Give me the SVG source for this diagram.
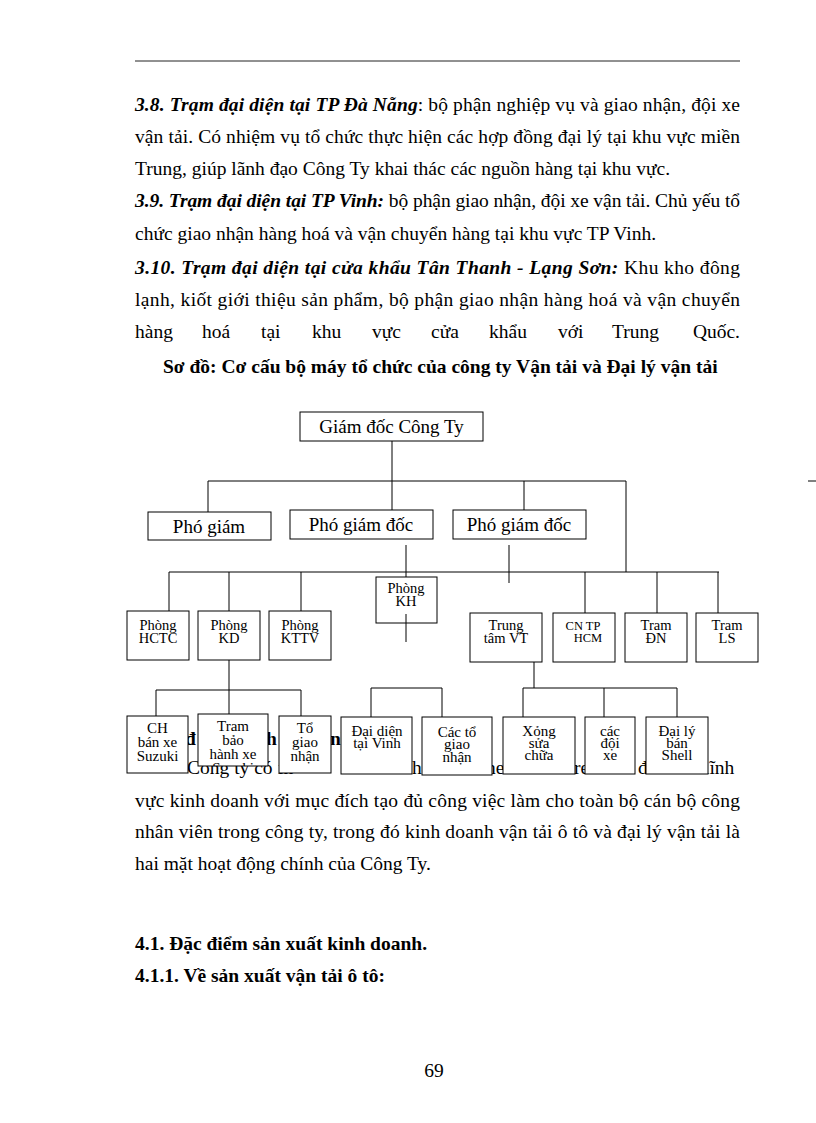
<svg xmlns="http://www.w3.org/2000/svg" width="816" height="1123" viewBox="0 0 816 1123">
<style>
.t{font-family:"Liberation Serif","Times New Roman",serif;font-size:19.5px;fill:#000}
.b{font-weight:bold}
.bi{font-weight:bold;font-style:italic}
.n rect{fill:#fff;stroke:#000;stroke-width:1}
.n text{font-family:"Liberation Serif","Times New Roman",serif;fill:#000;text-anchor:middle}
.s{font-size:14.5px}
.u{font-size:15px}
.m{font-size:19px}
#connectors line{stroke:#000;stroke-width:1}
</style>
<defs>
<clipPath id="clipTbh"><rect x="198" y="714" width="70" height="52"/></clipPath>
</defs>
<rect width="816" height="1123" fill="#fff"/>
<line x1="135" y1="61" x2="740" y2="61" stroke="#222" stroke-width="1"/>
<line x1="808" y1="481" x2="816" y2="481" stroke="#000" stroke-width="1"/>

<g id="body-text">
<text class="t" x="135" y="111" textLength="605" lengthAdjust="spacing"><tspan class="bi">3.8. Trạm đại diện tại TP Đà Nẵng</tspan>: bộ phận nghiệp vụ và giao nhận, đội xe</text>
<text class="t" x="135" y="143" textLength="605" lengthAdjust="spacing">vận tải. Có nhiệm vụ tổ chức thực hiện các hợp đồng đại lý tại khu vực miền</text>
<text class="t" x="135" y="175">Trung, giúp lãnh đạo Công Ty khai thác các nguồn hàng tại khu vực.</text>
<text class="t" x="135" y="207" textLength="605" lengthAdjust="spacing"><tspan class="bi">3.9. Trạm đại diện tại TP Vinh:</tspan> bộ phận giao nhận, đội xe vận tải. Chủ yếu tổ</text>
<text class="t" x="135" y="240">chức giao nhận hàng hoá và vận chuyển hàng tại khu vực TP Vinh.</text>
<text class="t" x="135" y="274" textLength="605" lengthAdjust="spacing"><tspan class="bi">3.10. Trạm đại diện tại cửa khẩu Tân Thanh - Lạng Sơn:</tspan> Khu kho đông</text>
<text class="t" x="135" y="306" textLength="605" lengthAdjust="spacing">lạnh, kiốt giới thiệu sản phẩm, bộ phận giao nhận hàng hoá và vận chuyển</text>
<text class="t" y="338"><tspan x="135">hàng</tspan><tspan x="202">hoá</tspan><tspan x="261">tại</tspan><tspan x="312">khu</tspan><tspan x="372">vực</tspan><tspan x="431">cửa</tspan><tspan x="489">khẩu</tspan><tspan x="558">với</tspan><tspan x="612">Trung</tspan></text>
<text class="t" x="740" y="338" text-anchor="end">Quốc.</text>
<text class="t b" x="163" y="373">Sơ đồ: Cơ cấu bộ máy tổ chức của công ty Vận tải và Đại lý vận tải</text>

<text class="t b" x="185" y="745">đ</text>
<text class="t b" x="266" y="745">h</text>
<text class="t b" x="330" y="745">nh</text>
<text class="t" x="187" y="774">Công ty có</text>
<text class="t" x="278" y="774">in</text>
<text class="t" x="412" y="774">h</text>
<text class="t" x="486" y="774">ne</text>
<text class="t" x="574" y="774">re</text>
<text class="t" x="638" y="774">đa</text>
<text class="t" x="704" y="774">lĩnh</text>

<text class="t" x="135" y="807" textLength="605" lengthAdjust="spacing">vực kinh doanh với mục đích tạo đủ công việc làm cho toàn bộ cán bộ công</text>
<text class="t" x="135" y="838" textLength="605" lengthAdjust="spacing">nhân viên trong công ty, trong đó kinh doanh vận tải ô tô và đại lý vận tải là</text>
<text class="t" x="135" y="870">hai mặt hoạt động chính của Công Ty.</text>
<text class="t b" x="135" y="950">4.1. Đặc điểm sản xuất kinh doanh.</text>
<text class="t b" x="135" y="982">4.1.1. Về sản xuất vận tải ô tô:</text>
<text class="t" x="434" y="1077" text-anchor="middle">69</text>
</g>

<g id="n_gd" class="n"><rect x="300" y="412" width="183" height="29"/><text x="391.5" y="433" font-size="19">Giám đốc Công Ty</text></g>
<g id="n_pgd1" class="n"><rect x="148" y="512" width="123" height="28"/><text class="m" x="209" y="533">Phó giám</text></g>
<g id="n_pgd2" class="n"><rect x="290" y="510" width="143" height="29"/><text class="m" x="361" y="531">Phó giám đốc</text></g>
<g id="n_pgd3" class="n"><rect x="453" y="510" width="133" height="29"/><text class="m" x="519" y="531">Phó giám đốc</text></g>

<g id="n_hctc" class="n"><rect x="127" y="611" width="62" height="49"/><text class="s" x="158" y="630">Phòng</text><text class="s" x="158" y="643">HCTC</text></g>
<g id="n_kd" class="n"><rect x="198" y="611" width="62" height="49"/><text class="s" x="229" y="630">Phòng</text><text class="s" x="229" y="643">KD</text></g>
<g id="n_kttv" class="n"><rect x="269" y="611" width="62" height="49"/><text class="s" x="300" y="630">Phòng</text><text class="s" x="300" y="643">KTTV</text></g>
<g id="n_kh" class="n"><rect x="376" y="577" width="61" height="46"/><text class="s" x="406" y="593">Phòng</text><text class="s" x="406" y="606">KH</text></g>
<g id="n_ttvt" class="n"><rect x="470" y="613" width="72" height="49"/><text class="s" x="506" y="630">Trung</text><text class="s" x="506" y="643">tâm VT</text></g>
<g id="n_hcm" class="n"><rect x="553" y="613" width="62" height="49"/><text x="583" y="630" font-size="12.5">CN TP</text><text x="588" y="642" font-size="12.5">HCM</text></g>
<g id="n_dn" class="n"><rect x="625" y="613" width="62" height="49"/><text class="s" x="656" y="630">Tram</text><text class="s" x="656" y="643">ĐN</text></g>
<g id="n_ls" class="n"><rect x="696" y="613" width="62" height="49"/><text class="s" x="727" y="630">Tram</text><text class="s" x="727" y="643">LS</text></g>

<g id="n_ch" class="n"><rect x="127" y="716" width="61" height="57"/><text class="u" x="157.5" y="733">CH</text><text class="u" x="157.5" y="747">bán xe</text><text class="u" x="157.5" y="761">Suzuki</text></g>
<g id="n_tbh" class="n"><rect x="198" y="714" width="70" height="52"/><g clip-path="url(#clipTbh)"><text class="u" x="233" y="731">Tram</text><text class="u" x="233" y="745">bảo</text><text class="u" x="233" y="759">hành xe</text><text class="u" x="233" y="773">Suzuki</text></g></g>
<g id="n_to" class="n"><rect x="279" y="716" width="52" height="57"/><text class="u" x="305" y="733">Tổ</text><text class="u" x="305" y="747">giao</text><text class="u" x="305" y="761">nhận</text></g>
<g id="n_dd" class="n"><rect x="341" y="717" width="71" height="57"/><text class="u" x="377" y="736">Đại diện</text><text class="u" x="377" y="748">tại Vinh</text></g>
<g id="n_cto" class="n"><rect x="422" y="717" width="70" height="58"/><text class="u" x="457" y="737">Các tổ</text><text class="u" x="457" y="749">giao</text><text class="u" x="457" y="762">nhận</text></g>
<g id="n_xs" class="n"><rect x="503" y="717" width="72" height="57"/><text class="u" x="539" y="736">Xỏng</text><text class="u" x="539" y="748">sửa</text><text class="u" x="539" y="760">chữa</text></g>
<g id="n_cdx" class="n"><rect x="585" y="717" width="50" height="57"/><text class="u" x="610" y="736">các</text><text class="u" x="610" y="748">đội</text><text class="u" x="610" y="760">xe</text></g>
<g id="n_dl" class="n"><rect x="646" y="717" width="62" height="57"/><text class="u" x="677" y="736">Đại lý</text><text class="u" x="677" y="748">bán</text><text class="u" x="677" y="760">Shell</text></g>

<g id="connectors">
<line x1="392" y1="441" x2="392" y2="510"/>
<line x1="208" y1="481" x2="626" y2="481"/>
<line x1="208" y1="481" x2="208" y2="512"/>
<line x1="524" y1="481" x2="524" y2="510"/>
<line x1="626" y1="481" x2="626" y2="572"/>
<line x1="406" y1="545" x2="406" y2="577"/>
<line x1="509" y1="545" x2="509" y2="583"/>
<line x1="169" y1="572" x2="719" y2="572"/>
<line x1="169" y1="572" x2="169" y2="611"/>
<line x1="229" y1="572" x2="229" y2="611"/>
<line x1="301" y1="572" x2="301" y2="611"/>
<line x1="585" y1="572" x2="585" y2="613"/>
<line x1="657" y1="572" x2="657" y2="613"/>
<line x1="718" y1="572" x2="718" y2="613"/>
<line x1="406" y1="614" x2="406" y2="642"/>
<line x1="229" y1="660" x2="229" y2="690"/>
<line x1="156" y1="690" x2="301" y2="690"/>
<line x1="156" y1="690" x2="156" y2="716"/>
<line x1="229" y1="690" x2="229" y2="714"/>
<line x1="301" y1="690" x2="301" y2="716"/>
<line x1="371" y1="688" x2="442" y2="688"/>
<line x1="371" y1="688" x2="371" y2="717"/>
<line x1="442" y1="688" x2="442" y2="717"/>
<line x1="534" y1="662" x2="534" y2="688"/>
<line x1="523" y1="688" x2="677" y2="688"/>
<line x1="523" y1="688" x2="523" y2="717"/>
<line x1="604" y1="688" x2="604" y2="717"/>
<line x1="677" y1="688" x2="677" y2="717"/>
</g>
</svg>
